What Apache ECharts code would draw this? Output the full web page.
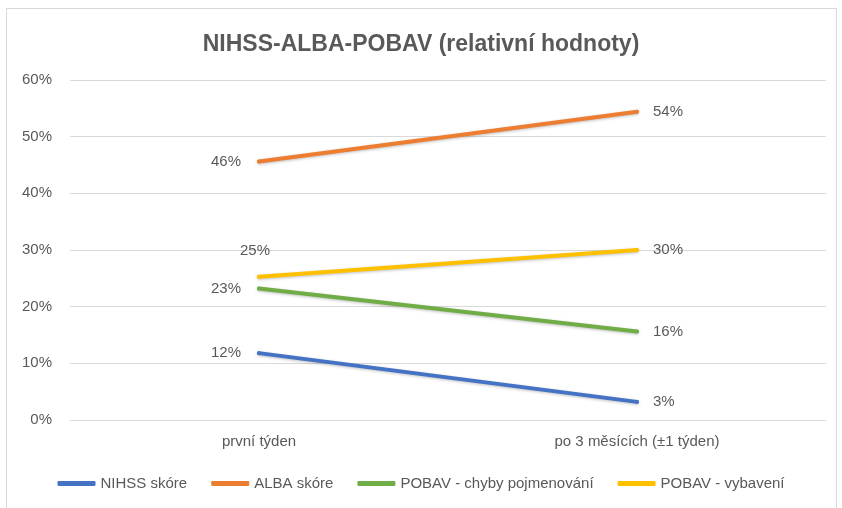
<!DOCTYPE html>
<html>
<head>
<meta charset="utf-8">
<script src="https://cdn.jsdelivr.net/npm/echarts@6/dist/echarts.min.js"></script>
<style>
  html, body { margin: 0; padding: 0; background: #fff; }
  #frame {
    position: absolute; left: 6px; top: 8px; width: 831px; height: 520px;
    border: 1px solid #d9d9d9; box-sizing: border-box;
  }
  #chart { position: absolute; left: 0; top: 0; width: 842px; height: 508px; }
</style>
</head>
<body>
<div id="frame"></div>
<div id="chart"></div>
<script>
  // data
  const categories = ['první týden', 'po 3 měsících (±1 týden)'];
  const seriesNames = ['NIHSS skóre', 'ALBA skóre', 'POBAV - chyby pojmenování', 'POBAV - vybavení'];
  const nihss = [0.118, 0.032];
  const alba = [0.456, 0.544];
  const pobavChyby = [0.232, 0.156];
  const pobavVybaveni = [0.253, 0.30];
  const colors = ['#4472C4', '#ED7D31', '#70AD47', '#FFC000'];

  const font = "'Liberation Sans', sans-serif";
  const textColor = '#595959';

  const pct = p => Math.round(p.value * 100) + '%';

  function makeSeries(name, data, color, firstPos) {
    return {
      name: name,
      type: 'line',
      data: data.map((v, i) => ({
        value: v,
        label: i === 0 ? firstPos : { position: 'right', distance: 14 }
      })),
      symbol: 'circle',
      symbolSize: 4,
      showSymbol: true,
      lineStyle: {
        width: 4, color: color, cap: 'round',
        shadowColor: 'rgba(0,0,0,0.25)', shadowBlur: 3, shadowOffsetY: 1
      },
      itemStyle: { color: color, borderWidth: 0 },
      label: {
        show: true, formatter: pct, color: textColor,
        fontFamily: font, fontSize: 15
      },
      emphasis: { disabled: true }
    };
  }

  const chart = echarts.init(document.getElementById('chart'));
  chart.setOption({
    animation: false,
    title: {
      text: 'NIHSS-ALBA-POBAV (relativní hodnoty)',
      left: 'center', top: 28,
      textStyle: { fontFamily: font, fontSize: 23, fontWeight: 'bold', color: textColor }
    },
    grid: { left: 70, right: 16, top: 80, bottom: 88, containLabel: false },
    legend: {
      bottom: 12,
      left: 'center',
      itemWidth: 38, itemHeight: 5, itemGap: 24,
      icon: 'roundRect',
      textStyle: { fontFamily: font, fontSize: 15, color: textColor },
      data: seriesNames
    },
    xAxis: {
      type: 'category',
      data: categories,
      boundaryGap: true,
      axisLine: { show: false },
      axisTick: { show: false },
      axisLabel: { fontFamily: font, fontSize: 15, color: textColor, margin: 14 }
    },
    yAxis: {
      type: 'value',
      min: 0, max: 0.6, interval: 0.1,
      axisLabel: {
        fontFamily: font, fontSize: 15, color: textColor, margin: 18,
        formatter: v => Math.round(v * 100) + '%'
      },
      splitLine: { lineStyle: { color: '#d9d9d9', width: 1 } }
    },
    series: [
      makeSeries(seriesNames[0], nihss, colors[0], { position: 'left', distance: 16 }),
      makeSeries(seriesNames[1], alba, colors[1], { position: 'left', distance: 16 }),
      makeSeries(seriesNames[2], pobavChyby, colors[2], { position: 'left', distance: 16 }),
      makeSeries(seriesNames[3], pobavVybaveni, colors[3], { position: 'top', distance: 16, offset: [-4, 0] })
    ]
  });
</script>
</body>
</html>
